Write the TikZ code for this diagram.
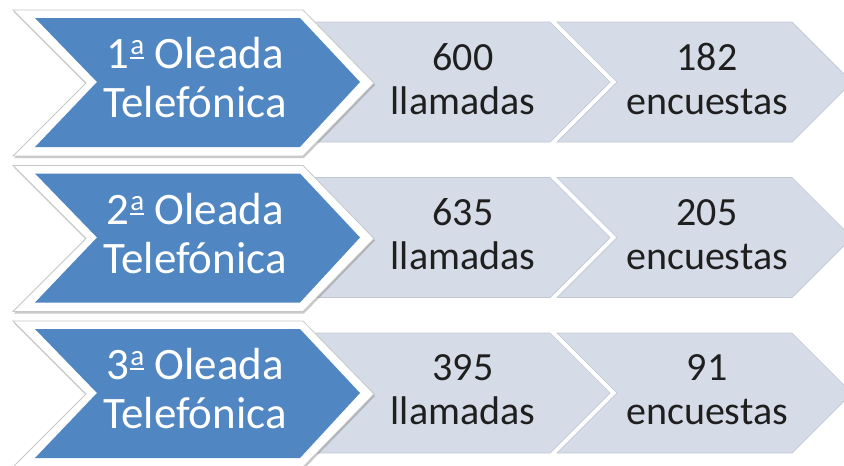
\documentclass[tikz,border=0pt]{standalone}
\usepackage{fontspec}
\setmainfont{Carlito}
\usetikzlibrary{shadows}
\definecolor{wblue}{RGB}{80,134,193}
\definecolor{gfill}{RGB}{214,220,231}
\definecolor{gline}{RGB}{192,199,212}
\newcommand\ordA{\kern1.5pt\raisebox{14pt}{\fontsize{29}{29}\selectfont\makebox[0pt][l]{\rule[-4.5pt]{13.5pt}{2pt}}a}}
\begin{document}
\begin{tikzpicture}[x=1pt,y=-1pt,
  outerbox/.style={fill=white,draw=black!22,line width=0.8pt,
    drop shadow={shadow xshift=1pt,shadow yshift=-2pt,opacity=0.35,fill=black!60}},
  bluebox/.style={fill=wblue,draw=none},
  graybox/.style={fill=gfill,draw=gline,line width=0.7pt},
  bluetext/.style={text=white,font=\fontsize{45}{49}\selectfont,align=center,inner sep=0pt},
  graytext/.style={text=black!88,font=\fontsize{40}{44}\selectfont,align=center,inner sep=0pt}]
\useasboundingbox (0,0) rectangle (844,466);
\foreach \r/\n/\ll/\ee [count=\i] in {0/1/600/182,155.5/2/635/205,311/3/395/91}{
  \begin{scope}[shift={(0,\r)}]
    % second grey chevron
    \path[graybox] (557,22) -- (792,22) -- (852,82) -- (792,142) -- (557,142) -- (617,82) -- cycle;
    % first grey chevron
    \path[graybox] (300,22) -- (550,22) -- (610,82) -- (550,142) -- (300,142) -- cycle;
    % white frame of the blue chevron
    \path[outerbox] (13,10) -- (303,10) -- (374,83) -- (303,156) -- (13,156) -- (86,83) -- cycle;
    % blue chevron
    \path[bluebox] (35,18) -- (300,18) -- (360,82) -- (300,147) -- (35,147) -- (97,82) -- cycle;
    \node[bluetext] (blue\i) at (195,78) {\n\ordA{} Oleada\\Telefónica};
    \node[graytext] (calls\i) at (463,79) {\ll\\llamadas};
    \node[graytext] (surv\i) at (707,79) {\ee\\encuestas};
  \end{scope}
}
\end{tikzpicture}
\end{document}
